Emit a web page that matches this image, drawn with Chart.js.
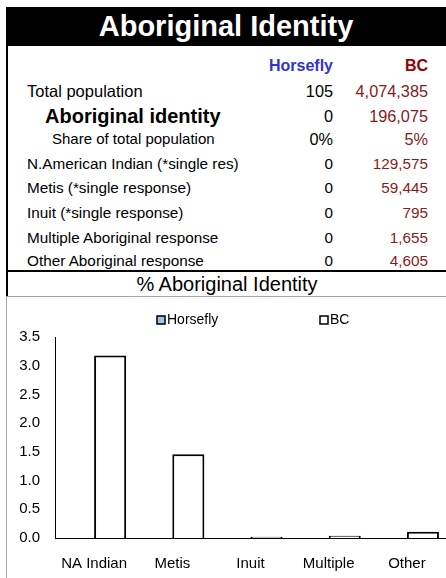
<!DOCTYPE html>
<html>
<head>
<meta charset="utf-8">
<title>Aboriginal Identity</title>
<script src="https://cdn.jsdelivr.net/npm/chart.js@4.4.0/dist/chart.umd.min.js"></script>
<style>
    body { margin: 0; width: 446px; height: 578px; position: relative; background: #fff;
           font-family: "Liberation Sans", Arial, sans-serif; color: #000; overflow: hidden; }
    .abs { position: absolute; }
    #header { left: 6px; top: 7px; width: 440px; height: 39px; background: #000; color: #fff;
              font-weight: bold; font-size: 29px; line-height: 39px; text-align: center; }
    #leftRule { left: 6px; top: 46px; width: 2px; height: 250px; background: #000; }
    #midRule { left: 6px; top: 270px; width: 440px; height: 2px; background: #000; }
    #chartTitle { left: 8px; top: 272px; width: 438px; height: 24px; line-height: 24px;
                  font-size: 20px; text-align: center; }
    #chartRule { left: 6px; top: 296px; width: 440px; height: 1px; background: #a6a6a6; }
    #chartLeft { left: 6px; top: 296px; width: 1px; height: 282px; background: #a6a6a6; }
    #chartBox { left: 7px; top: 297px; width: 439px; height: 281px; }
    .row { position: absolute; left: 0; width: 446px; height: 22px; line-height: 22px; white-space: nowrap; }
    .row span { position: absolute; top: 0; }
    .c1 { right: 113px; }
    .c2 { right: 18px; color: #8b1a1a; }
</style>
</head>
<body>
<div id="header" class="abs">Aboriginal Identity</div>
<div id="leftRule" class="abs"></div>
<div id="rows"></div>
<div id="midRule" class="abs"></div>
<div id="chartTitle" class="abs">% Aboriginal Identity</div>
<div id="chartRule" class="abs"></div>
<div id="chartLeft" class="abs"></div>
<div id="chartBox" class="abs"><canvas id="chart" width="439" height="281"></canvas></div>
<script>
    // table
    const colNames = ['Horsefly', 'BC'];
    const rowLabels = ['Total population', 'Aboriginal identity', 'Share of total population',
        'N.American Indian (*single res)', 'Metis (*single response)', 'Inuit (*single response)',
        'Multiple Aboriginal response', 'Other Aboriginal response'];
    const horseflyCol = ['105', '0', '0%', '0', '0', '0', '0', '0'];
    const bcCol = ['4,074,385', '196,075', '5%', '129,575', '59,445', '795', '1,655', '4,605'];

    // chart
    const categories = ['NA Indian', 'Metis', 'Inuit', 'Multiple', 'Other'];
    const horseflyPct = [0, 0, 0, 0, 0];
    const bcPct = [3.18, 1.46, 0.02, 0.04, 0.11];
    const yTicks = [0.0, 0.5, 1.0, 1.5, 2.0, 2.5, 3.0, 3.5];

    // row look (kept apart from the values)
    const rowMid = [91, 116, 139, 164, 188, 213, 238, 261];
    const rowIndent = [27, 45, 52, 27, 27, 27, 27, 27];
    const labelSize = [16.5, 20, 15, 15.3, 15.3, 15.3, 15.3, 15.3];
    const valueSize = [16.3, 16.3, 16.3, 15.3, 15.3, 15.3, 15.3, 15.3];

    const rows = document.getElementById('rows');
    function addRow(mid, html) {
        const r = document.createElement('div');
        r.className = 'row';
        r.style.top = (mid - 11) + 'px';
        r.innerHTML = html;
        rows.appendChild(r);
    }
    addRow(66, '<span class="c1" style="font-weight:bold;font-size:16px;color:#3333cc">' + colNames[0] + '</span>' +
               '<span class="c2" style="font-weight:bold;font-size:16px;color:#990000">' + colNames[1] + '</span>');
    rowLabels.forEach((lab, i) => {
        const bold = i === 1 ? 'font-weight:bold;' : '';
        addRow(rowMid[i],
            '<span style="left:' + rowIndent[i] + 'px;font-size:' + labelSize[i] + 'px;' + bold + '">' + lab + '</span>' +
            '<span class="c1" style="font-size:' + valueSize[i] + 'px">' + horseflyCol[i] + '</span>' +
            '<span class="c2" style="font-size:' + valueSize[i] + 'px">' + bcCol[i] + '</span>');
    });

    // legend drawn like the spreadsheet one: small square right against the text
    const boxLegend = {
        id: 'boxLegend',
        afterDraw(chart, args, opts) {
            const ctx = chart.ctx;
            ctx.save();
            ctx.font = '14px "Liberation Sans", Arial, sans-serif';
            ctx.textBaseline = 'middle';
            chart.data.datasets.forEach((ds, i) => {
                const x = opts.x[i], y = opts.y;
                ctx.fillStyle = ds.backgroundColor;
                ctx.fillRect(x, y - 4, 8, 8);
                ctx.lineWidth = 1.5;
                ctx.strokeStyle = '#000';
                ctx.strokeRect(x, y - 4, 8, 8);
                ctx.fillStyle = '#000';
                ctx.fillText(ds.label, x + 10, y);
            });
            ctx.restore();
        }
    };

    const font = { family: '"Liberation Sans", Arial, sans-serif', size: 15 };
    new Chart(document.getElementById('chart').getContext('2d'), {
        type: 'bar',
        data: {
            labels: categories,
            datasets: [{
                label: colNames[0],
                data: horseflyPct,
                backgroundColor: '#9dc3e6',
                borderColor: '#000',
                borderWidth: 1
            }, {
                label: colNames[1],
                data: bcPct,
                backgroundColor: '#ffffff',
                borderColor: '#000',
                borderWidth: 2
            }]
        },
        options: {
            responsive: false,
            animation: false,
            layout: { padding: { top: 40, left: 0, right: 0, bottom: 0 } },
            datasets: { bar: { categoryPercentage: 0.82, barPercentage: 1.0 } },
            plugins: {
                legend: { display: false },
                tooltip: { enabled: false },
                boxLegend: { x: [150, 313], y: 23 }
            },
            scales: {
                x: {
                    grid: { display: false, drawTicks: false },
                    border: { display: true, color: '#000', width: 1 },
                    ticks: { color: '#000', font: font, padding: 17, maxRotation: 0 },
                    afterFit: s => { s.paddingLeft = 0; s.paddingRight = 0; s.height = 40; }
                },
                y: {
                    min: 0,
                    max: 3.5,
                    afterBuildTicks: s => { s.ticks = yTicks.map(v => ({ value: v })); },
                    afterFit: s => { s.width = 48; s.paddingTop = 0; s.paddingBottom = 0; },
                    grid: { display: false, drawTicks: false },
                    border: { display: true, color: '#000', width: 1 },
                    ticks: { color: '#000', font: font, padding: 15, callback: v => v.toFixed(1) }
                }
            }
        },
        plugins: [boxLegend]
    });
</script>
</body>
</html>
